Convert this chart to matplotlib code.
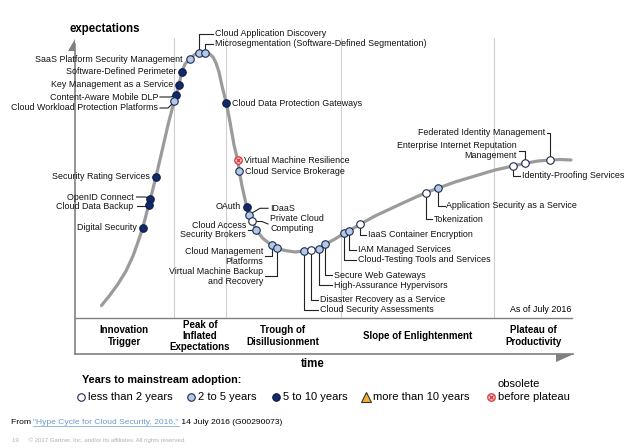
import matplotlib
matplotlib.use("Agg")
import matplotlib.pyplot as plt

plt.rcParams['font.family'] = ['Liberation Sans', 'DejaVu Sans']

# hype curve (x = time, y = expectations, screen units)
curve_x = [101.5, 110, 118, 126, 133, 138, 142.7, 148.7, 150.3, 156, 162, 168, 174, 176.3, 179,
           182, 185, 189.7, 194, 199.3, 205.3, 209, 213, 216, 219, 222, 226.3, 230, 234, 237.7,
           239.3, 242, 246.7, 249.3, 252.3, 256, 263, 271.7, 276.7, 285, 295, 304.3, 311.3, 319,
           325.3, 335, 344.3, 349.3, 360, 375, 390, 405, 425.7, 437.7, 455, 475, 495, 513, 525.3,
           538, 550.3, 560, 571]
curve_y = [305.5, 295, 284, 271, 256, 242, 228, 205, 199.3, 176.7, 151, 125, 101.5, 95.3, 84.7,
           71.7, 64, 59.3, 55, 52.5, 52.5, 53.5, 57, 63, 72, 86, 103, 122, 145, 160.3,
           171.3, 186, 206.7, 215.3, 221, 230, 238.5, 245.3, 248.3, 250.5, 252, 251, 250.3, 248.7,
           244.3, 239, 233.3, 230.7, 224.3, 216, 209, 202, 192.7, 188.3, 182, 176, 170, 166, 163.3,
           161, 160, 159.5, 160]

# technologies: name, position on the curve, years to mainstream adoption
tech = ["SaaS Platform Security Management", "Software-Defined Perimeter",
        "Key Management as a Service", "Content-Aware Mobile DLP",
        "Cloud Workload Protection Platforms", "Cloud Application Discovery",
        "Microsegmentation (Software-Defined Segmentation)", "Cloud Data Protection Gateways",
        "Security Rating Services", "OpenID Connect", "Cloud Data Backup", "Digital Security",
        "Virtual Machine Resilience", "Cloud Service Brokerage", "OAuth", "IDaaS",
        "Private Cloud\nComputing", "Cloud Access\nSecurity Brokers", "Cloud Management\nPlatforms",
        "Virtual Machine Backup\nand Recovery", "Cloud Security Assessments",
        "Disaster Recovery as a Service", "High-Assurance Hypervisors", "Secure Web Gateways",
        "Cloud-Testing Tools and Services", "IAM Managed Services", "IaaS Container Encryption",
        "Tokenization", "Application Security as a Service", "Identity-Proofing Services",
        "Enterprise Internet Reputation\nManagement", "Federated Identity Management"]
tech_x = [189.7, 182, 179, 176.3, 174, 199.3, 205.3, 226.3, 156, 150.3, 148.7, 142.7,
          237.7, 239.3, 246.7, 249.3, 252.3, 256, 271.7, 276.7, 304.3, 311.3, 319, 325.3,
          344.3, 349.3, 360, 425.7, 437.7, 513, 525.3, 550.3]
tech_y = [59.3, 71.7, 84.7, 95.3, 101.5, 52.7, 52.7, 103, 176.7, 199.3, 205, 228,
          160.3, 171.3, 206.7, 215.3, 221, 230, 245.3, 248.3, 251, 250.3, 248.7, 244.3,
          233.3, 230.7, 224.3, 192.7, 188.3, 166, 163.3, 160]
tech_years = ["2-5", "5-10", "5-10", "5-10", "2-5", "2-5", "2-5", "5-10", "5-10", "5-10", "5-10", "5-10",
              "obs", "2-5", "5-10", "2-5", "<2", "2-5", "2-5", "2-5", "2-5", "<2", "2-5", "2-5",
              "2-5", "2-5", "<2", "<2", "2-5", "<2", "<2", "<2"]

phases = ["Innovation\nTrigger", "Peak of\nInflated\nExpectations", "Trough of\nDisillusionment",
          "Slope of Enlightenment", "Plateau of\nProductivity"]
phase_center = [124, 200, 283, 418, 533]
phase_edges = [174, 226, 341, 494]

legend_names = ["less than 2 years", "2 to 5 years", "5 to 10 years", "more than 10 years",
                "before plateau"]
legend_keys = ["<2", "2-5", "5-10", ">10", "obs"]

# label placement: text x, text y of first line, alignment, leader path
label_pos = {
    "SaaS Platform Security Management": (183, 59.3, "right", None),
    "Software-Defined Perimeter": (176.5, 71.7, "right", None),
    "Key Management as a Service": (173, 84.7, "right", None),
    "Content-Aware Mobile DLP": (158.5, 97, "right", [(160, 97), (171, 97), (174, 95.5)]),
    "Cloud Workload Protection Platforms": (158, 108, "right", [(160, 108), (168, 108), (172, 104)]),
    "Cloud Application Discovery": (215, 34, "left", [(199.3, 49), (199.3, 34), (213, 34)]),
    "Microsegmentation (Software-Defined Segmentation)": (215, 44, "left",
                                                           [(205.3, 49), (205.3, 44), (213, 44)]),
    "Cloud Data Protection Gateways": (232.5, 103, "left", None),
    "Security Rating Services": (149.5, 176.7, "right", None),
    "OpenID Connect": (133.5, 197, "right", [(136.5, 197), (146, 197), (148, 198.5)]),
    "Cloud Data Backup": (133, 206.5, "right", [(136.5, 206.5), (145, 206.5)]),
    "Digital Security": (136.5, 228, "right", None),
    "Virtual Machine Resilience": (244, 160.3, "left", None),
    "Cloud Service Brokerage": (245, 171.3, "left", None),
    "OAuth": (241, 206.7, "right", None),
    "IDaaS": (270.5, 208.3, "left", [(252, 213), (260, 208.3), (268, 208.3)]),
    "Private Cloud\nComputing": (270.5, 218.7, "left", [(256, 221.5), (262, 221.5), (268, 224)]),
    "Cloud Access\nSecurity Brokers": (246, 225, "right", [(248, 230), (252.5, 230)]),
    "Cloud Management\nPlatforms": (263, 251.7, "right", [(271.7, 249), (271.7, 256), (265, 256)]),
    "Virtual Machine Backup\nand Recovery": (263, 271.7, "right",
                                              [(276.7, 252), (276.7, 276), (265, 276)]),
    "Cloud Security Assessments": (320, 310, "left", [(304.3, 255), (304.3, 310), (318, 310)]),
    "Disaster Recovery as a Service": (320, 300, "left", [(311.3, 254), (311.3, 300), (318, 300)]),
    "High-Assurance Hypervisors": (334, 285, "left", [(319, 252.5), (319, 285), (332, 285)]),
    "Secure Web Gateways": (334, 275, "left", [(325.3, 248), (325.3, 275), (332, 275)]),
    "Cloud-Testing Tools and Services": (357.5, 260, "left", [(344.3, 237), (344.3, 260), (355.5, 260)]),
    "IAM Managed Services": (357.5, 250, "left", [(349.3, 234.5), (349.3, 250), (355.5, 250)]),
    "IaaS Container Encryption": (368, 234.7, "left", [(360, 228), (360, 234.7), (366, 234.7)]),
    "Tokenization": (434, 219.3, "left", [(425.7, 196.5), (425.7, 219.3), (432, 219.3)]),
    "Application Security as a Service": (446.5, 206, "left",
                                          [(437.7, 192), (437.7, 206), (444.5, 206)]),
    "Identity-Proofing Services": (521.5, 175.7, "left", [(513, 170), (513, 175.7), (519.5, 175.7)]),
    "Enterprise Internet Reputation\nManagement": (517, 146, "right",
                                                    [(525.3, 159.5), (525.3, 151), (519, 151)]),
    "Federated Identity Management": (545, 132.7, "right", [(550.3, 156), (550.3, 132.7), (547, 132.7)]),
}

styles = {
    "<2": dict(marker="o", mfc="white", mec="#1b2a4e", ms=5.4, mew=0.8),
    "2-5": dict(marker="o", mfc="#b4c8e8", mec="#1b2a4e", ms=5.4, mew=0.8),
    "5-10": dict(marker="o", mfc="#12296a", mec="#0b1a40", ms=5.4, mew=0.8),
    ">10": dict(marker="^", mfc="#f2b233", mec="#333333", ms=7, mew=0.8),
    "obs": dict(marker="o", mfc="#fbd3d3", mec="#d9343c", ms=5.4, mew=0.9),
}

fig = plt.figure(figsize=(6.4, 4.48), dpi=100)
ax = fig.add_axes([0, 0, 1, 1])
ax.set_xlim(0, 640)
ax.set_ylim(448, 0)
ax.axis("off")

axis_grey = "#808080"
# phase separators
for xe in phase_edges:
    ax.plot([xe, xe], [38, 318], color="#cfcfcf", lw=0.8, zorder=1)
# axes frame
ax.plot([75, 75], [44, 354], color=axis_grey, lw=1.2, zorder=2)
ax.plot([75, 572], [318, 318], color=axis_grey, lw=1.0, zorder=2)
ax.plot([75, 573], [354, 354], color=axis_grey, lw=1.2, zorder=2)
ax.fill([75, 75, 68], [39, 51, 51], color=axis_grey, lw=0, zorder=2)
ax.fill([556, 574, 556], [354, 354, 362], color=axis_grey, lw=0, zorder=2)

ax.text(69, 29, "expectations", fontsize=8.3, fontweight="bold", ha="left", va="center")
ax.text(313, 364, "time", fontsize=8.3, fontweight="bold", ha="center", va="center")
ax.text(571, 310, "As of July 2016", fontsize=6.4, ha="right", va="center")

for name, xc in zip(phases, phase_center):
    lines = name.split("\n")
    y0 = 336 - (len(lines) - 1) * 11.5 / 2
    for i, ln in enumerate(lines):
        ax.text(xc, y0 + i * 11.5, ln, fontsize=7, fontweight="bold", ha="center", va="center")

# curve
ax.plot(curve_x, curve_y, color="#9b9b9b", lw=2.3, solid_joinstyle="round",
        solid_capstyle="round", zorder=3)

# points and labels
for name, x, y, yrs in zip(tech, tech_x, tech_y, tech_years):
    ax.plot([x], [y], ls="none", zorder=5, **styles[yrs])
    if yrs == "obs":
        ax.plot([x], [y], marker="x", ms=2.6, mew=0.9, color="#d9343c", ls="none", zorder=6)
    tx, ty, ha, path = label_pos[name]
    if path:
        ax.plot([p[0] for p in path], [p[1] for p in path], color="#222222", lw=0.8, zorder=4)
    for i, ln in enumerate(name.split("\n")):
        ax.text(tx, ty + i * 9.7, ln, fontsize=6.4, ha=ha, va="center", color="#111111")

# legend
ax.text(82, 380, "Years to mainstream adoption:", fontsize=7.8, fontweight="bold",
        ha="left", va="center")
leg_x = [81, 191, 276, 366, 491]
for lx, nm, key in zip(leg_x, legend_names, legend_keys):
    ax.plot([lx], [397], ls="none", **styles[key])
    if key == "obs":
        ax.plot([lx], [397], marker="x", ms=2.6, mew=0.9, color="#d9343c", ls="none")
    ax.text(lx + 7, 397, nm, fontsize=8, ha="left", va="center")
ax.text(498, 384, "obsolete", fontsize=8, ha="left", va="center")

# source line
t1 = ax.text(11, 423, "From ", fontsize=6.1, ha="left", va="center")
fig.canvas.draw()
r = fig.canvas.get_renderer()
bb = t1.get_window_extent(r).transformed(ax.transData.inverted())
t2 = ax.text(bb.x1, 423, "\"Hype Cycle for Cloud Security, 2016,\"", fontsize=6.1, ha="left",
             va="center", color="#6a9ccf")
bb2 = t2.get_window_extent(r).transformed(ax.transData.inverted())
ax.plot([bb2.x0, bb2.x1], [426.5, 426.5], color="#6a9ccf", lw=0.5)
ax.text(bb2.x1, 423, " 14 July 2016 (G00290073)", fontsize=6.1, ha="left", va="center")
ax.text(12, 440, "19      \u00a9 2017 Gartner, Inc. and/or its affiliates. All rights reserved.",
        fontsize=4.3, ha="left", va="center", color="#b0b0b0")

fig.savefig("out.png", dpi=100)
